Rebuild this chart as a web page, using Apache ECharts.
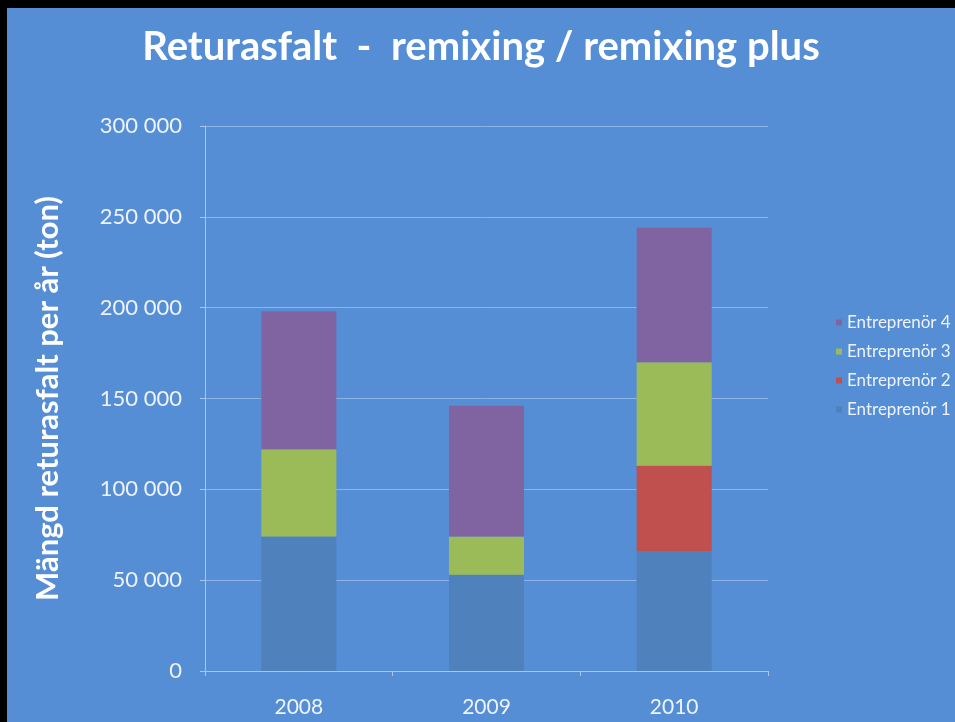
<!DOCTYPE html>
<html><head><meta charset="utf-8">
<script src="https://cdn.jsdelivr.net/npm/echarts@6/dist/echarts.min.js"></script>
<style>
html,body{margin:0;padding:0;background:#000;width:955px;height:722px;overflow:hidden}
#chart{position:absolute;left:7px;top:8px;width:948px;height:714px;background:#558ED5}
</style></head>
<body><div id="chart"></div>
<script>
const categories = ['2008', '2009', '2010'];
const seriesNames = ['Entreprenör 1', 'Entreprenör 2', 'Entreprenör 3', 'Entreprenör 4'];
const entreprenor1 = [74000, 53000, 66000];
const entreprenor2 = [0, 0, 47000];
const entreprenor3 = [48000, 21000, 57000];
const entreprenor4 = [76000, 72000, 74000];
const yTicks = [0, 50000, 100000, 150000, 200000, 250000, 300000];
const titleText = 'Returasfalt  -  remixing / remixing plus';
const yAxisTitle = 'Mängd returasfalt per år (ton)';

const colors = ['#4F81BD', '#C0504D', '#9BBB59', '#8064A2'];
const values = [entreprenor1, entreprenor2, entreprenor3, entreprenor4];
const font = 'Lato, "Open Sans", sans-serif';
const txt = '#EEF3FB';

const chart = echarts.init(document.getElementById('chart'), null, {renderer: 'canvas'});
chart.setOption({
  animation: false,
  backgroundColor: '#558ED5',
  title: {
    text: titleText, left: 'center', top: 14,
    textStyle: {color: '#FFFFFF', fontSize: 40, fontWeight: 'bold', fontFamily: font}
  },
  legend: {
    data: seriesNames.slice().reverse(),
    orient: 'vertical', left: 829, top: 306, padding: 0,
    itemWidth: 6, itemHeight: 6, itemGap: 12, icon: 'rect',
    textStyle: {color: txt, fontSize: 17, lineHeight: 17, fontFamily: font}
  },
  grid: {left: 198, top: 118, right: 187, bottom: 51, containLabel: false},
  xAxis: {
    type: 'category', data: categories,
    axisLine: {lineStyle: {color: '#A9C6EC', width: 1}},
    axisTick: {show: true, alignWithLabel: false, length: 5, lineStyle: {color: '#A9C6EC'}},
    axisLabel: {color: txt, fontSize: 21, fontFamily: font, margin: 26},
    splitLine: {show: false}
  },
  yAxis: {
    type: 'value', min: yTicks[0], max: yTicks[yTicks.length - 1], interval: 50000,
    name: yAxisTitle, nameLocation: 'middle', nameGap: 142, nameRotate: 90,
    nameTextStyle: {color: '#FFFFFF', fontSize: 31, fontWeight: 'bold', fontFamily: font},
    axisLine: {show: true, lineStyle: {color: '#A9C6EC', width: 1}},
    axisTick: {show: true, length: 5, lineStyle: {color: '#A9C6EC'}},
    axisLabel: {
      color: txt, fontSize: 22, fontFamily: font, margin: 23,
      formatter: v => v === 0 ? '0' : String(v).replace(/\B(?=(\d{3})+(?!\d))/g, ' ')
    },
    splitLine: {show: true, lineStyle: {color: '#8DB4E6', width: 1}}
  },
  series: seriesNames.map((n, i) => ({
    name: n, type: 'bar', stack: 'total', barWidth: '40%',
    data: values[i],
    itemStyle: {color: colors[i]}
  }))
});
</script></body></html>
